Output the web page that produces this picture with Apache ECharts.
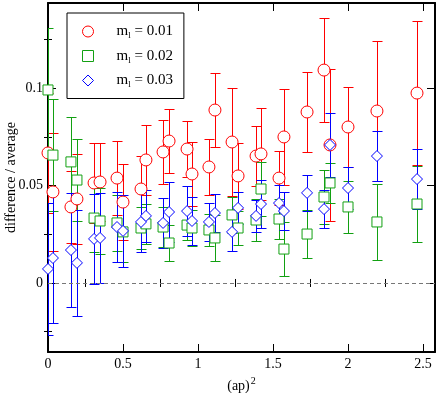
<!DOCTYPE html>
<html>
<head>
<meta charset="utf-8">
<script src="https://cdn.jsdelivr.net/npm/echarts@6/dist/echarts.min.js"></script>
<style>
html, body { margin: 0; padding: 0; background: #fff; }
#chart { width: 438px; height: 393px; }
</style>
</head>
<body>
<div id="chart"></div>
<script>
// (ap)^2 positions, shared by the three sets
var xs = [0, 0.033, 0.153, 0.193, 0.307, 0.347, 0.46, 0.5, 0.62, 0.653, 0.767, 0.807, 0.927, 0.96,
          1.073, 1.113, 1.227, 1.267, 1.387, 1.42, 1.54, 1.573, 1.727, 1.84, 1.88, 2.0, 2.193, 2.46];

// m_l = 0.01
var red = [0.0667, 0.0467, 0.039, 0.0431, 0.0513, 0.0518, 0.0538, 0.0415, 0.0482, 0.0631, 0.0672, 0.0728, 0.0687, 0.0559,
           0.0595, 0.0887, 0.0723, 0.0549, 0.0651, 0.0662, 0.0538, 0.0749, 0.0877, 0.1092, 0.0708, 0.08, 0.0882, 0.0974];
var redErr = [0.0308, 0.0303, 0.0185, 0.0231, 0.0205, 0.02, 0.019, 0.0195, 0.0169, 0.018, 0.0164, 0.0164, 0.0144, 0.0164,
              0.0144, 0.019, 0.0277, 0.0169, 0.0154, 0.0236, 0.0138, 0.0246, 0.0205, 0.0267, 0.039, 0.0205, 0.0359, 0.0369];

// m_l = 0.02
var green = [0.099, 0.0656, 0.0621, 0.0528, 0.0333, 0.0318, 0.0308, 0.0262, 0.0282, 0.0303, 0.0287, 0.0205, 0.0297, 0.0282,
             0.0272, 0.0231, 0.0349, 0.0282, 0.0323, 0.0482, 0.0328, 0.0174, 0.0251, 0.0441, 0.0513, 0.039, 0.0313, 0.0405];
var greenErr = [0.0318, 0.0287, 0.0231, 0.021, 0.0174, 0.0169, 0.0144, 0.0154, 0.0108, 0.0103, 0.0103, 0.0092, 0.0077, 0.0092,
                0.0082, 0.0118, 0.0092, 0.0087, 0.0108, 0.0138, 0.0103, 0.0138, 0.0123, 0.0138, 0.0103, 0.0133, 0.0195, 0.0195];

// m_l = 0.03
var blue = [0.0072, 0.0128, 0.0169, 0.0103, 0.0226, 0.0231, 0.0287, 0.0267, 0.0313, 0.0344, 0.0308, 0.0364, 0.0369, 0.0318,
            0.0313, 0.0359, 0.0262, 0.0385, 0.0344, 0.0405, 0.041, 0.0369, 0.0462, 0.0379, 0.0708, 0.0487, 0.0651, 0.0533];
var blueErr = [0.0338, 0.0333, 0.0292, 0.0272, 0.0231, 0.0231, 0.018, 0.0185, 0.0154, 0.0133, 0.0128, 0.0154, 0.0128, 0.0123,
               0.0097, 0.0097, 0.0097, 0.0082, 0.0082, 0.0123, 0.0092, 0.0097, 0.0092, 0.0097, 0.0164, 0.0108, 0.0128, 0.0154];

var names = ['m_l = 0.01', 'm_l = 0.02', 'm_l = 0.03'];
var xMajor = [0, 0.5, 1, 1.5, 2, 2.5];
var xMinor = [0.25, 0.75, 1.25, 1.75, 2.25];
var yMajor = [0, 0.05, 0.1];
var yMinor = [-0.025, 0.025, 0.075, 0.125];

var RED = '#ff0000', GREEN = '#12a012', BLUE = '#0000ff';
var FONT = 'Liberation Serif';

var myChart = echarts.init(document.getElementById('chart'));

function points(ys, errs) {
    return xs.map(function (x, i) { return [x, ys[i], errs[i]]; });
}

function errorBars(color) {
    return function (params, api) {
        var x = api.value(0), y = api.value(1), e = api.value(2);
        var top = api.coord([x, y + e]);
        var bot = api.coord([x, y - e]);
        var cx = Math.round(top[0]) + 0.5;
        var t = Math.round(top[1]) + 0.5, b = Math.round(bot[1]) + 0.5;
        var st = { stroke: color, lineWidth: 1 };
        return {
            type: 'group',
            children: [
                { type: 'line', shape: { x1: cx, y1: t, x2: cx, y2: b }, style: st },
                { type: 'line', shape: { x1: cx - 5, y1: t, x2: cx + 5, y2: t }, style: st },
                { type: 'line', shape: { x1: cx - 5, y1: b, x2: cx + 5, y2: b }, style: st }
            ]
        };
    };
}

function setPair(name, ys, errs, color, symbol, size) {
    return [
        {
            type: 'custom', name: name, renderItem: errorBars(color),
            data: points(ys, errs), clip: true, silent: true,
            encode: { x: 0, y: 1 }
        },
        {
            type: 'scatter', name: name, symbol: symbol, symbolSize: size,
            data: points(ys, errs),
            itemStyle: { color: '#fff', borderColor: color, borderWidth: 1, opacity: 1 },
            emphasis: { disabled: true }
        }
    ];
}

var frame = { show: true, onZero: false, lineStyle: { color: '#000', width: 2 } };
var noLine = { show: false };

function xAx(pos, ticks, len, main) {
    return {
        type: 'value', min: 0, max: 2.58, position: pos,
        axisLine: main ? frame : noLine,
        axisTick: { show: true, inside: true, length: len, customValues: ticks, lineStyle: { color: '#000', width: 1 } },
        axisLabel: main && pos === 'bottom'
            ? { show: true, customValues: xMajor, color: '#000', fontFamily: FONT, fontSize: 14, margin: 5 }
            : { show: false },
        splitLine: { show: false }
    };
}

function yAx(pos, ticks, len, main) {
    return {
        type: 'value', min: -0.0354, max: 0.1436, position: pos,
        axisLine: main ? frame : noLine,
        axisTick: { show: true, inside: true, length: len, customValues: ticks, lineStyle: { color: '#000', width: 1 } },
        axisLabel: main && pos === 'left'
            ? { show: true, customValues: yMajor, color: '#000', fontFamily: FONT, fontSize: 14, margin: 5 }
            : { show: false },
        splitLine: { show: false }
    };
}

var xAxes = [xAx('bottom', xMajor, 8, true), xAx('bottom', xMinor, 4, false),
             xAx('top', xMajor, 8, true), xAx('top', xMinor, 4, false)];
xAxes[0].name = '{a|(ap)}{s|2}';
xAxes[0].nameLocation = 'middle';
xAxes[0].nameGap = 22;
xAxes[0].nameTextStyle = {
    rich: {
        a: { fontFamily: FONT, fontSize: 14, color: '#000' },
        s: { fontFamily: FONT, fontSize: 10, color: '#000', verticalAlign: 'top', padding: [0, 0, 10, 1] }
    }
};

var yAxes = [yAx('left', yMajor, 8, true), yAx('left', yMinor, 4, false),
             yAx('right', yMajor, 8, true), yAx('right', yMinor, 4, false)];
yAxes[0].name = 'difference / average';
yAxes[0].nameLocation = 'middle';
yAxes[0].nameGap = 30;
yAxes[0].nameMoveOverlap = false;
yAxes[0].nameTextStyle = { fontFamily: FONT, fontSize: 14, color: '#000' };

var series = []
    .concat(setPair(names[0], red, redErr, RED, 'circle', 12))
    .concat(setPair(names[1], green, greenErr, GREEN, 'rect', 10))
    .concat(setPair(names[2], blue, blueErr, BLUE, 'diamond', 11));

series[0].markLine = {
    silent: true, symbol: 'none', label: { show: false },
    lineStyle: { color: '#777', type: [4, 3], width: 1 },
    data: [{ yAxis: 0 }]
};

myChart.setOption({
    animation: false,
    grid: { left: 48, top: 3, right: 3, bottom: 41, outerBoundsMode: 'none' },
    xAxis: xAxes,
    yAxis: yAxes,
    legend: {
        orient: 'vertical', left: 67, top: 13,
        padding: [11, 11, 9, 15],
        itemWidth: 11, itemHeight: 11, itemGap: 8,
        borderColor: '#000', borderWidth: 1, borderRadius: 0,
        selectedMode: false,
        data: [
            { name: names[0], icon: 'circle', itemStyle: { color: '#fff', borderColor: RED, borderWidth: 1 } },
            { name: names[1], icon: 'rect', itemStyle: { color: '#fff', borderColor: GREEN, borderWidth: 1 } },
            { name: names[2], icon: 'diamond', itemStyle: { color: '#fff', borderColor: BLUE, borderWidth: 1 } }
        ],
        formatter: function (name) {
            return '{a|m}{s|l}{b|' + name.slice(3) + '}';
        },
        textStyle: {
            rich: {
                a: { fontFamily: FONT, fontSize: 15, color: '#000', padding: [0, 0, 0, 18], lineHeight: 18 },
                s: { fontFamily: FONT, fontSize: 9, color: '#000', verticalAlign: 'bottom', padding: [6, 0, 0, 0], lineHeight: 18 },
                b: { fontFamily: FONT, fontSize: 15, color: '#000', lineHeight: 18 }
            }
        }
    },
    series: series
});

window.addEventListener('resize', function () {
    myChart.resize();
});
</script>
</body>
</html>
